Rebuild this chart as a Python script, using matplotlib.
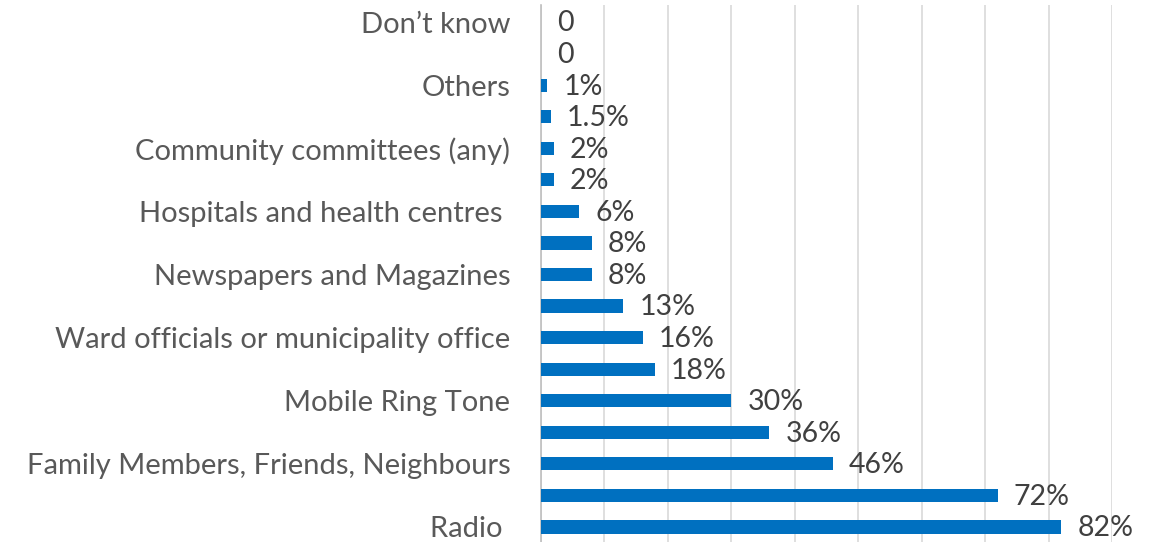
import matplotlib.pyplot as plt

# Sources of information, top to bottom (only every other category label is shown)
categories = [
    "Don\u2019t know", "", "Others", "", "Community committees (any)", "",
    "Hospitals and health centres ", "", "Newspapers and Magazines", "",
    "Ward officials or municipality office", "", "Mobile Ring Tone", "",
    "Family Members, Friends, Neighbours", "", "Radio ",
]
values = [0, 0, 1, 1.5, 2, 2, 6, 8, 8, 13, 16, 18, 30, 36, 46, 72, 82]

plt.rcParams['font.family'] = ['Lato', 'DejaVu Sans']

fig = plt.figure(figsize=(11.58, 5.42), dpi=100)
ax = fig.add_axes([541 / 1158, 0, (1112 - 541) / 1158, 537 / 542])

ypos = list(range(len(values)))
ax.barh(ypos, values, height=0.42, color='#0070C0', zorder=3)

for y, v in zip(ypos, values):
    label = '0' if v == 0 else f'{v:g}%'
    ax.annotate(label, (v, y), xytext=(11.5, -1), textcoords='offset points',
                va='center', ha='left', fontsize=20.5, color='#404040',
                annotation_clip=False)

ax.set_xlim(0, 90)
ax.set_ylim(16.476, -0.539)
ax.set_xticks(range(0, 91, 10))
ax.grid(axis='x', color='#D9D9D9', linewidth=1.2, zorder=0)
ax.tick_params(axis='x', bottom=False, labelbottom=False)
ax.set_yticks(ypos)
ax.set_yticklabels(categories, fontsize=21, color='#595959')
ax.tick_params(axis='y', length=0, pad=22)

for side in ['top', 'right', 'bottom']:
    ax.spines[side].set_visible(False)
ax.spines['left'].set_color('#BFBFBF')
ax.spines['left'].set_linewidth(1.2)

fig.savefig('out.png', dpi=100)
